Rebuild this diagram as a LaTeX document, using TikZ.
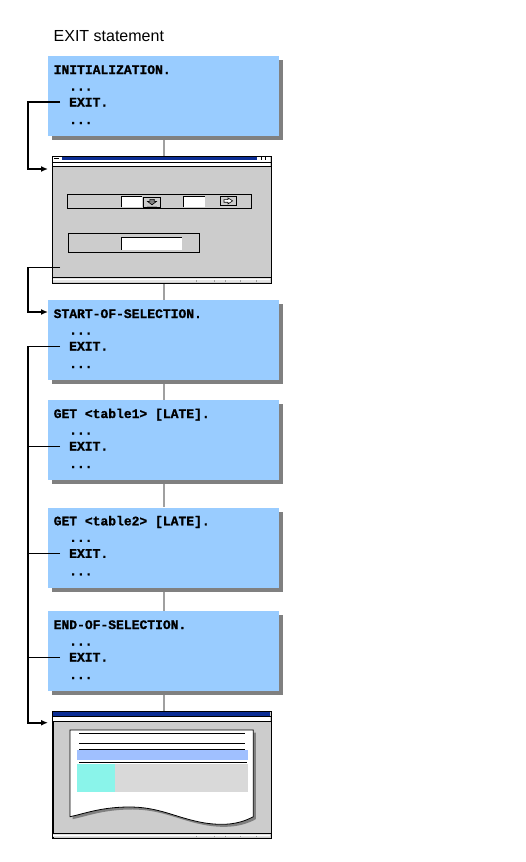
\documentclass[tikz,border=0pt]{standalone}
\usepackage{fontspec}
\newfontfamily\titlefont{Liberation Sans}
\newfontfamily\codefont{Liberation Mono}[BoldFeatures={FakeBold=1.2}]
\usetikzlibrary{arrows.meta,shadows,backgrounds}
\definecolor{boxblue}{HTML}{99CCFF}
\definecolor{shadowgray}{HTML}{808080}
\definecolor{wingray}{HTML}{CCCCCC}
\definecolor{statusgray}{HTML}{E4E4E4}
\definecolor{titleblue}{HTML}{0B2D94}
\definecolor{linkgray}{HTML}{A0A0A0}
\definecolor{paperblue}{HTML}{A0C0FF}
\definecolor{papergray}{HTML}{D9D9D9}
\definecolor{papercyan}{HTML}{8AF4EA}
\begin{document}
\begin{tikzpicture}[x=1pt, y=-1pt,
    >={Latex[length=7pt,width=6pt]},
    codebox/.style={anchor=north west, fill=boxblue, minimum width=231pt, minimum height=80pt, inner sep=0pt,
        drop shadow={shadow xshift=4pt, shadow yshift=-4pt, fill=shadowgray, opacity=1}},
    code/.style={anchor=base west, inner sep=0pt, font=\codefont\bfseries\fontsize{13}{13}\selectfont},
    winframe/.style={anchor=north west, draw=black, line width=1.2pt, fill=wingray, minimum width=218.5pt, minimum height=127pt, inner sep=0pt},
    flowline/.style={draw=linkgray, line width=2pt},
    jumpline/.style={draw=black, line width=2pt, ->},
    branchline/.style={draw=black, line width=1pt},
    thinline/.style={draw=black, line width=0.8pt},
    field/.style={fill=white},
    winbutton/.style={fill=wingray, draw=black, line width=0.8pt}]
    %--------------------%
    % Parameters
    %--------------------%
    \def\railx{28}
    \def\tipx{48}
    \def\indentx{69}

    \useasboundingbox (0,0) rectangle (526,862);

    %--------------------%
    % Title
    %--------------------%
    \node[anchor=base west, inner sep=0pt, font=\titlefont\fontsize{16}{16}\selectfont] (title) at (53.5,41.7) {EXIT statement};

    %--------------------%
    % Event blocks
    %--------------------%
    % INITIALIZATION
    \node[codebox] (init) at (48,56) {};
    \node[code] (init1) at (53.5,74) {INITIALIZATION.};
    \node[code] (initdots1) at (\indentx,90.5) {...};
    \node[code] (exitinit) at (\indentx,106.5) {EXIT.};
    \node[code] (initdots2) at (\indentx,124) {...};

    % START-OF-SELECTION
    \node[codebox] (start) at (48,300) {};
    \node[code] (start1) at (53.5,318) {START-OF-SELECTION.};
    \node[code] (startdots1) at (\indentx,334.5) {...};
    \node[code] (exitstart) at (\indentx,350.5) {EXIT.};
    \node[code] (startdots2) at (\indentx,368) {...};

    % GET table1
    \node[codebox] (get1) at (48,400) {};
    \node[code] (get11) at (53.5,418) {GET <table1> [LATE].};
    \node[code] (get1dots1) at (\indentx,434.5) {...};
    \node[code] (exitget1) at (\indentx,450.5) {EXIT.};
    \node[code] (get1dots2) at (\indentx,468) {...};

    % GET table2
    \node[codebox] (get2) at (48,507.3) {};
    \node[code] (get21) at (53.5,525.3) {GET <table2> [LATE].};
    \node[code] (get2dots1) at (\indentx,541.8) {...};
    \node[code] (exitget2) at (\indentx,557.8) {EXIT.};
    \node[code] (get2dots2) at (\indentx,575.3) {...};

    % END-OF-SELECTION
    \node[codebox] (endsel) at (48,611) {};
    \node[code] (endsel1) at (53.5,629) {END-OF-SELECTION.};
    \node[code] (endseldots1) at (\indentx,645.5) {...};
    \node[code] (exitendsel) at (\indentx,661.5) {EXIT.};
    \node[code] (endseldots2) at (\indentx,679) {...};

    %--------------------%
    % Selection screen
    %--------------------%
    \node[winframe] (win1) at (52,156) {};
    % title bar
    \fill[titleblue] (62,156.6) rectangle (256.7,160.4);
    \fill[white] (52.6,156.6) rectangle (61.5,160.4);
    \fill[white] (257.2,156.6) rectangle (269.9,160.4);
    \draw[thinline] (54,158.2) -- (58.5,158.2);
    \draw[thinline] (261.5,157) -- (261.5,159.8);
    \draw[thinline] (265.5,157) -- (265.5,159.8);
    \fill[white] (52.6,160.4) rectangle (269.9,166);
    \draw[thinline] (52,162.3) -- (270.5,162.3);
    \draw[thinline] (52,166) -- (270.5,166);
    % status bar
    \fill[statusgray] (52.6,277.7) rectangle (269.9,282.4);
    \draw[thinline] (52,277.7) -- (270.5,277.7);
    \draw[white, line width=0.8pt] (52.6,279.3) -- (269.9,279.3);
    \foreach \tick in {196.7,214.3,225.7,240,256.7}
        \draw[linkgray, line width=0.6pt] (\tick,280.3) -- (\tick,282.4);
    % parameter line
    \draw[thinline] (67.3,194.3) rectangle (251.7,208.7);
    \fill[field] (121,196) rectangle (142.3,207.3);
    \draw[thinline] (121,207.3) -- (121,196) -- (142.3,196);
    \draw[winbutton] (143.3,197.7) rectangle (160.7,207.3);
    \draw[line width=0.6pt, fill=shadowgray] (149.8,199.3) -- (154.2,199.3) -- (154.2,201.3) -- (156.6,201.3) -- (152,204.8) -- (147.4,201.3) -- (149.8,201.3) -- cycle;
    \draw[linkgray, line width=0.8pt] (147,206.2) -- (157,206.2);
    \fill[field] (183.3,196) rectangle (204.7,207.3);
    \draw[thinline] (183.3,207.3) -- (183.3,196) -- (204.7,196);
    \draw[winbutton] (220.3,196.7) rectangle (236.7,205);
    \draw[line width=0.6pt, fill=white] (224,199.6) -- (228,199.6) -- (228,197.9) -- (232.6,200.9) -- (228,203.9) -- (228,202.2) -- (224,202.2) -- cycle;
    % select-option line
    \draw[thinline] (68.3,233.3) rectangle (199.3,252.3);
    \fill[field] (121,237.3) rectangle (182,249.7);
    \draw[thinline] (121,249.7) -- (121,237.3) -- (182,237.3);

    %--------------------%
    % List screen
    %--------------------%
    \node[winframe] (win2) at (52.3,711) {};
    % title bar
    \fill[titleblue] (53,711.8) rectangle (270.3,716.2);
    \draw[thinline] (52.3,716.6) -- (271,716.6);
    \fill[white] (53,717) rectangle (270.3,720.9);
    \draw[thinline] (52.3,721.3) -- (271,721.3);
    % status bar
    \fill[statusgray] (53,833.3) rectangle (270.3,837.4);
    \draw[thinline] (52.3,833.3) -- (271,833.3);
    \draw[white, line width=0.8pt] (53,835) -- (270.3,835);
    \foreach \tick in {196.7,214,225.7,240,256.7}
        \draw[linkgray, line width=0.6pt] (\tick,835.8) -- (\tick,837.4);
    % paper
    \fill[shadowgray, shift={(2.5,2.5)}] (70,730) -- (253.3,730) -- (253.3,816.7)
        .. controls (238,825) and (222,825.5) .. (205,823)
        .. controls (175,818) and (160,806.5) .. (127,807)
        .. controls (100,807.5) and (85,813.5) .. (70,816.7) -- cycle;
    \filldraw[fill=white, thinline] (70,730) -- (253.3,730) -- (253.3,816.7)
        .. controls (238,825) and (222,825.5) .. (205,823)
        .. controls (175,818) and (160,806.5) .. (127,807)
        .. controls (100,807.5) and (85,813.5) .. (70,816.7) -- cycle;
    \draw[thinline] (79,733.3) -- (245,733.3);
    \draw[thinline] (79,743.3) -- (245,743.3);
    \draw[thinline] (79,749.3) -- (245,749.3);
    \fill[paperblue] (77,750) rectangle (248,760);
    \draw[thinline] (79,762.3) -- (247,762.3);
    \fill[papergray] (77,764) rectangle (248,791.7);
    \fill[papercyan] (77,764) rectangle (115.3,791.7);

    %--------------------%
    % Connections
    %--------------------%
    % Program flow
    \begin{scope}[on background layer]
    \draw[flowline] (init.south) -- (init.south |- win1.north);
    \draw[flowline] (start.north |- win1.south) -- (start.north);
    \draw[flowline] (start.south) -- (get1.north);
    \draw[flowline] (get1.south) -- (get2.north);
    \draw[flowline] (get2.south) -- (endsel.north);
    \draw[flowline] (endsel.south) -- (endsel.south |- win2.north);
    \end{scope}

    % EXIT jumps
    \coordinate (railinit) at (\railx,169);
    \coordinate (win1in) at (\tipx,169);
    \coordinate (win1out) at (60,267.3);
    \coordinate (railwin) at (\railx,312);
    \coordinate (startin) at (\tipx,312);
    \coordinate (railend) at (\railx,722.7);
    \coordinate (win2in) at (\tipx,722.7);

    \draw[jumpline] ([xshift=-9pt]exitinit.west) -| (railinit) -- (win1in);
    \draw[branchline] (win1out) -- (win1out -| railwin);
    \draw[jumpline] (win1out -| railwin) -- (railwin) -- (startin);
    \draw[branchline] ([xshift=-9pt]exitstart.west) -- (exitstart.west -| railend);
    \draw[jumpline] (exitstart.west -| railend) -- (railend) -- (win2in);
    \draw[branchline] ([xshift=-9pt]exitget1.west) -- (exitget1.west -| railend);
    \draw[branchline] ([xshift=-9pt]exitget2.west) -- (exitget2.west -| railend);
    \draw[branchline] ([xshift=-9pt]exitendsel.west) -- (exitendsel.west -| railend);

\end{tikzpicture}
\end{document}
